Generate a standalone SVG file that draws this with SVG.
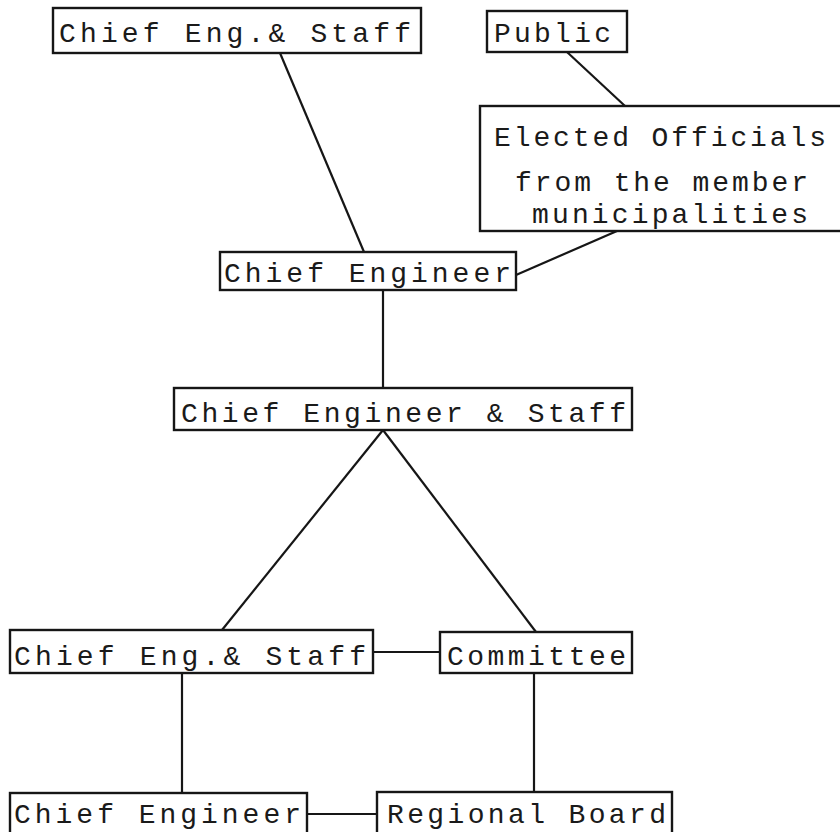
<svg xmlns="http://www.w3.org/2000/svg" width="840" height="832" viewBox="0 0 840 832">
  <style>
    .box { fill: #ffffff; stroke: #161616; stroke-width: 2.4; }
    .lbl { font-family: "Liberation Mono", "DejaVu Sans Mono", monospace; font-size: 28px; fill: #1a1a1a; }
    .wire { stroke: #161616; stroke-width: 2.2; fill: none; }
  </style>
  <rect width="840" height="832" fill="#ffffff"/>

  <!-- connectors -->
  <g id="connectors">
    <line class="wire" x1="280" y1="53" x2="364" y2="252"/>
    <line class="wire" x1="567" y1="52" x2="625" y2="106"/>
    <line class="wire" x1="617" y1="231" x2="516" y2="275"/>
    <line class="wire" x1="383" y1="290" x2="383" y2="388"/>
    <line class="wire" x1="383" y1="430" x2="222" y2="630"/>
    <line class="wire" x1="383" y1="430" x2="536" y2="632"/>
    <line class="wire" x1="373" y1="652" x2="440" y2="652"/>
    <line class="wire" x1="182" y1="673" x2="182" y2="793"/>
    <line class="wire" x1="534" y1="673" x2="534" y2="792"/>
    <line class="wire" x1="307" y1="814" x2="377" y2="814"/>
  </g>

  <!-- nodes -->
  <g id="chief-eng-staff-top">
    <rect class="box" x="53" y="8" width="368" height="45"/>
    <text class="lbl" x="59" y="42" textLength="352" lengthAdjust="spacing">Chief Eng.&amp; Staff</text>
  </g>

  <g id="public">
    <rect class="box" x="487" y="11" width="140" height="41"/>
    <text class="lbl" x="494" y="42" textLength="117" lengthAdjust="spacing">Public</text>
  </g>

  <g id="elected-officials">
    <rect class="box" x="480" y="106" width="380" height="125"/>
    <text class="lbl" x="494" y="146" textLength="332" lengthAdjust="spacing">Elected Officials</text>
    <text class="lbl" x="515" y="191" textLength="293" lengthAdjust="spacing">from the member</text>
    <text class="lbl" x="532" y="223" textLength="276" lengthAdjust="spacing">municipalities</text>
  </g>

  <g id="chief-engineer-mid">
    <rect class="box" x="220" y="252" width="296" height="38"/>
    <text class="lbl" x="224" y="282" textLength="287" lengthAdjust="spacing">Chief Engineer</text>
  </g>

  <g id="chief-engineer-staff">
    <rect class="box" x="174" y="388" width="458" height="42"/>
    <text class="lbl" x="181" y="422" textLength="445" lengthAdjust="spacing">Chief Engineer &amp; Staff</text>
  </g>

  <g id="chief-eng-staff-low">
    <rect class="box" x="10" y="630" width="363" height="43"/>
    <text class="lbl" x="14" y="665" textLength="352" lengthAdjust="spacing">Chief Eng.&amp; Staff</text>
  </g>

  <g id="committee">
    <rect class="box" x="440" y="632" width="192" height="41"/>
    <text class="lbl" x="447" y="665" textLength="179" lengthAdjust="spacing">Committee</text>
  </g>

  <g id="chief-engineer-low">
    <rect class="box" x="10" y="793" width="297" height="60"/>
    <text class="lbl" x="14" y="823" textLength="287" lengthAdjust="spacing">Chief Engineer</text>
  </g>

  <g id="regional-board">
    <rect class="box" x="377" y="792" width="295" height="60"/>
    <text class="lbl" x="387" y="823" textLength="279" lengthAdjust="spacing">Regional Board</text>
  </g>
</svg>
